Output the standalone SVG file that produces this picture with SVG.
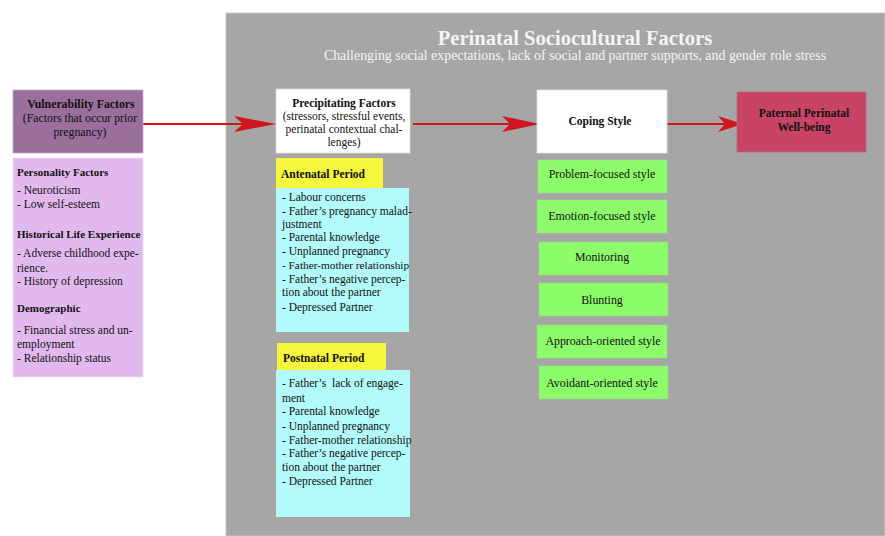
<svg xmlns="http://www.w3.org/2000/svg" width="885" height="536" viewBox="0 0 885 536">
<style>
text{font-family:"Liberation Serif","Times New Roman",serif;fill:#111;font-size:11.5px}
.b{font-weight:bold}
.c{text-anchor:middle}
.g{font-size:11.9px}
.ln{stroke:#d0161e;stroke-width:2;fill:none}
.hd{fill:#d0161e;stroke:none}
.wb{fill:#fff;stroke:#e0e0e0;stroke-width:0.8}
.gr{fill:#8cfc6a;stroke:#9ad98a;stroke-width:0.6}
.cy{fill:#b3fafa}
.ye{fill:#f6f63c}
</style>
<rect x="0" y="0" width="885" height="536" fill="#fff"/>
<g id="panel">
<rect x="226" y="13" width="659" height="523" fill="#a6a6a6" stroke="#c8c8c8" stroke-width="1"/>
<text x="575" y="45" class="b c" style="font-size:20.6px;fill:#f4f4f4">Perinatal Sociocultural Factors</text>
<text x="575" y="60" class="c" style="font-size:13.9px;fill:#f4f4f4">Challenging social expectations, lack of social and partner supports, and gender role stress</text>
</g>
<g id="connectors">
<line x1="143" y1="124" x2="246" y2="124" class="ln"/>
<path d="M276,124 L234,116 L243,124 L234,132 Z" class="hd"/>
<line x1="413" y1="124" x2="512" y2="124" class="ln"/>
<path d="M540,124 L502,116 L510,124 L502,132 Z" class="hd"/>
<line x1="667" y1="124" x2="726" y2="124" class="ln"/>
<path d="M743,124 L718,116 L725,124 L718,132 Z" class="hd"/>
</g>
<g id="vulnerability">
<rect x="13" y="90" width="130" height="63" fill="#9a6f9c" stroke="#c9a9cc" stroke-width="0.8"/>
<text x="81" y="108" class="b c" style="font-size:11.8px">Vulnerability Factors</text>
<text x="80" y="122" class="c" style="font-size:11.8px">(Factors that occur prior</text>
<text x="80" y="136" class="c" style="font-size:11.8px">pregnancy)</text>
</g>
<g id="vulnerability-list">
<rect x="13" y="158" width="130" height="219" fill="#e2b9ee" stroke="#f0dcf4" stroke-width="0.8"/>
<text x="17" y="176" class="b" style="font-size:11px">Personality Factors</text>
<text x="17" y="194">- Neuroticism</text>
<text x="17" y="208">- Low self-esteem</text>
<text x="17" y="238" class="b" style="font-size:11px">Historical Life Experience</text>
<text x="17" y="257">- Adverse childhood expe-</text>
<text x="17" y="272">rience.</text>
<text x="17" y="285">- History of depression</text>
<text x="17" y="312" class="b" style="font-size:11px">Demographic</text>
<text x="17" y="334">- Financial stress and un-</text>
<text x="17" y="348">employment</text>
<text x="17" y="362">- Relationship status</text>
</g>
<g id="precipitating">
<rect x="276" y="89" width="134" height="64" class="wb"/>
<text x="344" y="107" class="b c">Precipitating Factors</text>
<text x="344" y="120" class="c">(stressors, stressful events,</text>
<text x="344" y="133" class="c">perinatal contextual chal-</text>
<text x="344" y="146" class="c">lenges)</text>
</g>
<g id="antenatal">
<rect x="276" y="188" width="133" height="144" class="cy"/>
<rect x="276" y="158" width="107" height="30" class="ye"/>
<text x="281" y="178" class="b">Antenatal Period</text>
<text x="282" y="201">- Labour concerns</text>
<text x="282" y="215">- Father’s pregnancy malad-</text>
<text x="282" y="228">justment</text>
<text x="282" y="241">- Parental knowledge</text>
<text x="282" y="255">- Unplanned pregnancy</text>
<text x="282" y="269" style="font-size:11.3px">- Father-mother relationship</text>
<text x="282" y="283">- Father’s negative percep-</text>
<text x="282" y="296">tion about the partner</text>
<text x="282" y="311">- Depressed Partner</text>
</g>
<g id="postnatal">
<rect x="276" y="370" width="134" height="147" class="cy"/>
<rect x="277" y="343" width="109" height="27" class="ye"/>
<text x="283" y="362" class="b">Postnatal Period</text>
<text x="282" y="387" style="white-space:pre">- Father’s  lack of engage-</text>
<text x="282" y="402">ment</text>
<text x="282" y="415">- Parental knowledge</text>
<text x="282" y="430">- Unplanned pregnancy</text>
<text x="282" y="444">- Father-mother relationship</text>
<text x="282" y="457">- Father’s negative percep-</text>
<text x="282" y="471">tion about the partner</text>
<text x="282" y="485">- Depressed Partner</text>
</g>
<g id="coping">
<rect x="537" y="90" width="130" height="63" class="wb"/>
<text x="600" y="125" class="b c">Coping Style</text>
</g>
<g id="problem">
<rect x="538" y="160" width="129" height="33" class="gr"/>
<text x="602" y="178" class="c g">Problem-focused style</text>
</g>
<g id="emotion">
<rect x="537" y="200" width="130" height="33" class="gr"/>
<text x="602" y="220" class="c g">Emotion-focused style</text>
</g>
<g id="monitoring">
<rect x="539" y="242" width="129" height="33" class="gr"/>
<text x="602" y="261" class="c g">Monitoring</text>
</g>
<g id="blunting">
<rect x="539" y="283" width="129" height="33" class="gr"/>
<text x="602" y="304" class="c g">Blunting</text>
</g>
<g id="approach">
<rect x="537" y="325" width="130" height="33" class="gr"/>
<text x="603" y="345" class="c g">Approach-oriented style</text>
</g>
<g id="avoidant">
<rect x="539" y="366" width="129" height="33" class="gr"/>
<text x="602" y="387" class="c g">Avoidant-oriented style</text>
</g>
<g id="wellbeing">
<rect x="737" y="92" width="129" height="60" fill="#c84366" stroke="#b8677c" stroke-width="0.8"/>
<text x="804" y="117" class="b c">Paternal Perinatal</text>
<text x="804" y="131" class="b c">Well-being</text>
</g>
</svg>
